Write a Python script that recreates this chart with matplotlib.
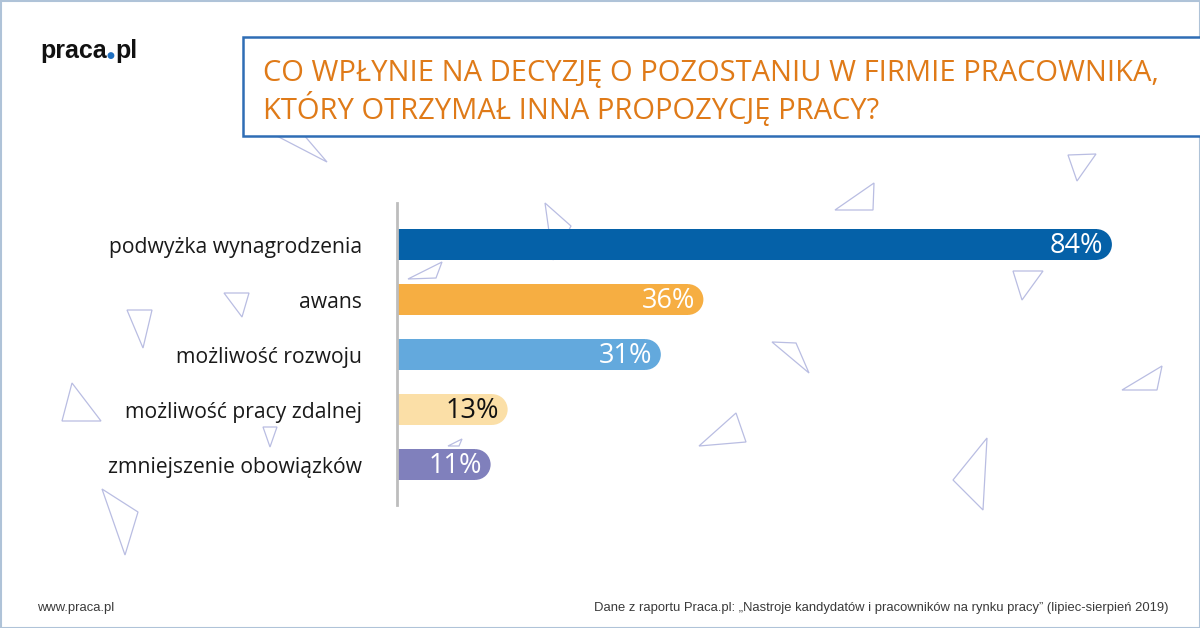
import matplotlib
matplotlib.use("Agg")
import matplotlib.pyplot as plt
from matplotlib.patches import Ellipse, Rectangle, Polygon

# ---- data ----
categories = ["podwyżka wynagrodzenia", "awans", "możliwość rozwoju",
              "możliwość pracy zdalnej", "zmniejszenie obowiązków"]
values = [84, 36, 31, 13, 11]
bar_colors = ["#0561A8", "#F6AE42", "#63A9DD", "#FBDFA7", "#8080BC"]
label_colors = ["white", "white", "white", "#111111", "white"]
title_lines = ["CO WPŁYNIE NA DECYZJĘ O POZOSTANIU W FIRMIE PRACOWNIKA,",
               "KTÓRY OTRZYMAŁ INNA PROPOZYCJĘ PRACY?"]
footer_left = "www.praca.pl"
footer_right = "Dane z raportu Praca.pl: „Nastroje kandydatów i pracowników na rynku pracy” (lipiec-sierpień 2019)"

W, H = 1200, 628
fig = plt.figure(figsize=(W / 100, H / 100), dpi=100)
fig.patch.set_facecolor("white")

def fx(x):
    return x / W

def fy(y):
    return 1 - y / H

# background layer axes (pixel coords, y down)
bg = fig.add_axes([0, 0, 1, 1])
bg.set_xlim(0, W)
bg.set_ylim(H, 0)
bg.axis("off")

# outer frame
bg.add_patch(Rectangle((0.5, 0.5), W - 1, H - 1, fill=False, ec="#AFC3D8", lw=1.5))

# decorative triangles
tri_color = "#B9BDE2"
triangles = [
    [(273, 134), (327, 162), (303, 134)],
    [(1068, 155), (1096, 154), (1077, 181)],
    [(835, 210), (874, 183), (873, 210)],
    [(545, 203), (571, 226), (553, 260)],
    [(408, 279), (442, 262), (436, 278)],
    [(1013, 271), (1043, 271), (1022, 300)],
    [(772, 342), (796, 343), (809, 373)],
    [(1122, 390), (1162, 366), (1157, 390)],
    [(699, 446), (736, 413), (746, 442)],
    [(953, 480), (987, 438), (983, 510)],
    [(448, 446), (462, 439), (459, 446)],
    [(224, 293), (249, 293), (242, 317)],
    [(127, 310), (152, 310), (143, 348)],
    [(62, 421), (101, 421), (72, 383)],
    [(263, 427), (277, 427), (270, 447)],
    [(102, 489), (138, 512), (125, 555)],
]
for t in triangles:
    bg.add_patch(Polygon(t, closed=True, fill=False, ec=tri_color, lw=0.9))

# title box
bg.add_patch(Rectangle((243, 37), W - 243 + 5, 99, fc="white", ec="#2F6DB5", lw=1.8, zorder=3))
title_font = dict(family=["Open Sans", "DejaVu Sans"], color="#DF7A18", fontsize=21)
bg.text(263, 73, title_lines[0], va="center", ha="left", zorder=4, **title_font)
bg.text(263, 109, title_lines[1], va="center", ha="left", zorder=4, **title_font)

# logo
logo_font = dict(family=["Liberation Sans", "DejaVu Sans"],
                 fontsize=18, fontweight="bold", color="#111111")
renderer = fig.canvas.get_renderer()
t1 = fig.text(fx(40), fy(58), "praca", va="baseline", ha="left", **logo_font)
x1 = t1.get_window_extent(renderer).x1
t2 = fig.text(x1 / W + 0.0003, fy(58), "\u25CF", va="baseline", ha="left",
              family="DejaVu Sans", fontsize=6.5, color="#1F6FC0")
x2 = t2.get_window_extent(renderer).x1
fig.text(x2 / W, fy(58), "pl", va="baseline", ha="left", **logo_font)

# footer
fig.text(fx(37), fy(608), footer_left, va="center", ha="left",
         family=["Liberation Sans", "DejaVu Sans"], fontsize=9.4, color="#3A3A3A")
fig.text(fx(1168), fy(608), footer_right, va="center", ha="right",
         family=["Liberation Sans", "DejaVu Sans"], fontsize=9.4, color="#3A3A3A")

# ---- bar chart ----
ax = fig.add_axes([fx(397), fy(505), (1140 - 397) / W, (505 - 203) / H])
ax.patch.set_alpha(0)
ax.set_xlim(0, 87.3)
ax.set_ylim(4.736, -0.755)
for s in ["top", "right", "bottom"]:
    ax.spines[s].set_visible(False)
ax.spines["left"].set_color("#BDBDBD")
ax.spines["left"].set_linewidth(2)
ax.set_xticks([])

pos = list(range(len(categories)))
bh = 0.56
ppx = ax.bbox.width / 87.3
ppy = ax.bbox.height / (4.736 + 0.755)
r_px = bh * ppy / 2
rx = r_px / ppx

for i, (v, c) in enumerate(zip(values, bar_colors)):
    ax.barh(i, v - rx, height=bh, left=0, color=c, zorder=2)
    ax.add_patch(Ellipse((v - rx, i), 2 * rx, bh, color=c, zorder=2, lw=0))
    ax.text(v - 8.5 / ppx, i + 0.02, f"{v}%", ha="right", va="center",
            color=label_colors[i], fontsize=19.5, family=["Open Sans", "DejaVu Sans"], zorder=3)

ax.set_yticks(pos)
ax.set_yticklabels(categories, family=["Open Sans", "DejaVu Sans"], fontsize=15.2, color="#1A1A1A")
ax.tick_params(axis="y", length=0, pad=25)

fig.savefig("out.png", dpi=100, facecolor="white")
